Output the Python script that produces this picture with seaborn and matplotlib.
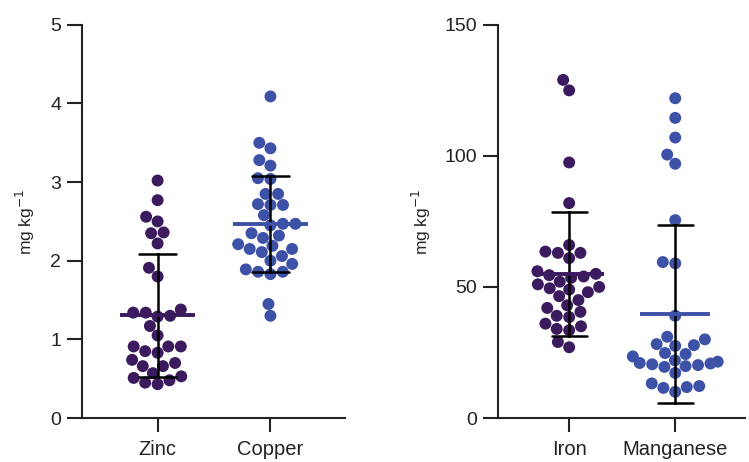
import pandas as pd
import matplotlib.pyplot as plt
import seaborn as sns

# values (mg kg-1)
zinc = [3.02, 2.77, 2.56, 2.50, 2.35, 2.36, 2.22, 1.91, 1.80, 1.34, 1.38, 1.34, 1.30,
        1.29, 1.17, 1.05, 0.91, 0.91, 0.85, 0.91, 0.83, 0.74, 0.66, 0.66, 0.70, 0.57,
        0.53, 0.51, 0.45, 0.48, 0.43]
copper = [4.09, 3.50, 3.43, 3.28, 3.21, 3.05, 3.04, 2.85, 2.85, 2.72, 2.71, 2.71, 2.58,
          2.47, 2.47, 2.45, 2.35, 2.29, 2.32, 2.21, 2.15, 2.15, 2.19, 2.11, 2.06, 2.00,
          1.96, 1.86, 1.83, 1.89, 1.86, 1.45, 1.30]
iron = [129, 125, 97.5, 82, 66, 63.5, 63, 63, 61, 56, 55, 54.5, 54, 53.5, 52, 51, 50,
        49.5, 49, 48, 46.5, 45, 43, 42, 40.5, 39, 38.5, 36, 35, 34, 33.5, 29, 27]
manganese = [122, 114.5, 107, 100.5, 97, 75.5, 59.5, 59, 39, 31, 30, 28.2, 27.8, 27.5,
             24.8, 24.4, 23.5, 22, 21.5, 21, 20.8, 20.5, 20.2, 19.8, 19.5, 17.2, 13.2,
             12.2, 11.8, 11.5, 10]

purple = "#3b1b5e"
blue = "#3d52a6"

df_left = pd.DataFrame({"metal": ["Zinc"] * len(zinc) + ["Copper"] * len(copper),
                        "value": zinc + copper})
df_right = pd.DataFrame({"metal": ["Iron"] * len(iron) + ["Manganese"] * len(manganese),
                         "value": iron + manganese})

sns.set_style("ticks")
plt.rcParams["font.family"] = ["Liberation Sans", "DejaVu Sans"]

fig = plt.figure(figsize=(7.49, 4.62), dpi=100)
ax1 = fig.add_axes([0.1095, 0.0952, 0.351, 0.851])
ax2 = fig.add_axes([0.665, 0.0952, 0.33, 0.851])


def panel(ax, df, order, ymax, yticks, label_x):
    pal = dict(zip(order, [purple, blue]))
    sns.swarmplot(data=df, x="metal", y="value", hue="metal", order=order,
                  palette=pal, size=8.6, ax=ax, legend=False, zorder=2)
    # mean +/- SD error bars
    sns.pointplot(data=df, x="metal", y="value", order=order, errorbar="sd",
                  capsize=0.33, color="black", linestyle="none", marker="",
                  err_kws={"linewidth": 1.8}, ax=ax, zorder=3)
    means = df.groupby("metal")["value"].mean().reindex(order)
    for i, m in enumerate(order):
        ax.hlines(means[m], i - 0.33, i + 0.33, color=pal[m], linewidth=2.8, zorder=4)
    ax.set_ylim(0, ymax)
    ax.set_yticks(yticks)
    ax.set_xlim(-0.67, 1.66)
    ax.set_xlabel("")
    ax.set_ylabel("mg kg$^{-1}$", fontsize=12.5)
    ax.yaxis.set_label_coords(label_x, 0.5)
    sns.despine(ax=ax)
    for s in ["left", "bottom"]:
        ax.spines[s].set_linewidth(1.5)
        ax.spines[s].set_color("#222222")
    ax.tick_params(axis="y", length=11, width=1.5, labelsize=14, color="#222222",
                   labelcolor="#222222", pad=4)
    ax.tick_params(axis="x", length=10, width=1.5, labelsize=14.5, color="#222222",
                   labelcolor="#222222", pad=6)


panel(ax1, df_left, ["Zinc", "Copper"], 5, [0, 1, 2, 3, 4, 5], -0.17)
panel(ax2, df_right, ["Iron", "Manganese"], 150, [0, 50, 100, 150], -0.262)

plt.savefig("out.png", dpi=100)
